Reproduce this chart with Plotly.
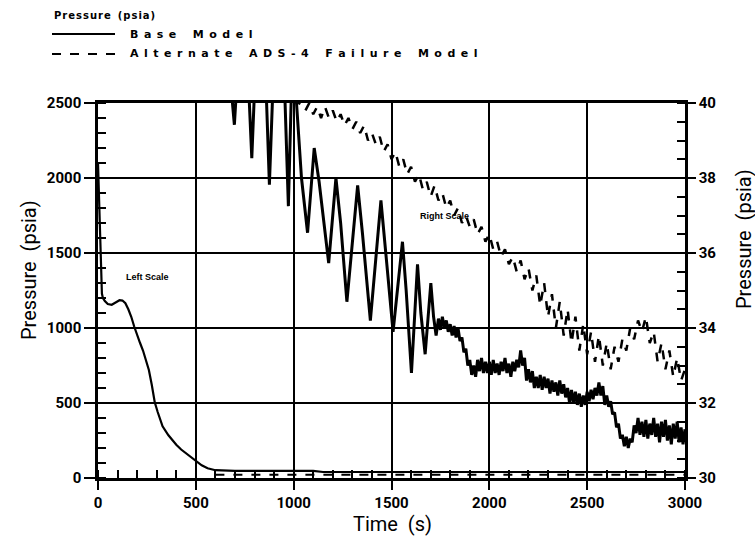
import plotly.graph_objects as go

# ---------------- data ----------------
# Left scale (0-2500 psia)
left_t = [0, 4, 8, 12, 16, 20, 25, 35, 50, 70, 90, 110, 125, 140, 155, 170, 185, 200,
          215, 230, 245, 260, 275, 290, 305, 330, 360, 380, 400, 425, 450, 475,
          500, 530, 560, 600, 700, 800, 900, 1000, 1100, 1150, 1500, 2000, 2500, 3000]
left_base_p = [2100, 1900, 1700, 1500, 1350, 1230, 1200, 1180, 1160, 1155, 1170, 1185,
               1183, 1165, 1125, 1075, 1010, 950, 900, 850, 790, 720, 620, 505, 440, 345,
               285, 250, 222, 190, 165, 138, 112, 85, 65, 52, 48, 47, 47, 47, 47, 40,
               40, 40, 40, 40]
left_alt_t = [600, 1000, 1500, 2000, 2500, 3000]
left_alt_p = [22, 22, 22, 22, 22, 22]

# Right scale (30-40 psia): Base Model
base_osc_t = [670, 697, 715, 765, 786, 805, 855, 876, 898, 950, 973, 992, 1012, 1040,
              1071, 1105, 1130, 1179, 1216, 1240, 1272, 1327, 1352, 1392, 1446, 1470,
              1508, 1556, 1575, 1602, 1633, 1650, 1672, 1701, 1715, 1728]
base_osc_p = [41.0, 39.42, 41.0, 41.0, 38.53, 41.0, 41.0, 37.82, 41.0, 41.0, 37.25, 41.0,
              40.2, 38.0, 36.54, 38.8, 37.9, 35.73, 38.0, 36.8, 34.7, 37.8, 36.5, 34.2,
              37.4, 36.0, 33.9, 36.3, 35.0, 32.8, 35.7, 34.4, 33.3, 35.2, 34.3, 33.8]
base_noise_t = list(range(1740, 3001, 10))
base_noise_p = [
    34.25, 33.95, 34.3, 34.0, 34.2, 33.9, 34.1, 33.8, 34.05, 33.75,
    34.0, 33.65, 33.75, 33.35, 33.45, 33.0, 33.15, 32.75, 33.0, 32.7,
    33.15, 32.85, 33.2, 32.8, 33.1, 32.8, 33.1, 32.75, 33.15, 32.8,
    33.05, 32.75, 33.1, 32.85, 33.2, 32.8, 33.05, 32.7, 33.1, 32.85,
    33.15, 32.95, 33.4, 33.0, 33.2, 32.6, 32.9, 32.55, 32.85, 32.4,
    32.7, 32.4, 32.75, 32.35, 32.7, 32.4, 32.65, 32.25, 32.6, 32.3,
    32.55, 32.2, 32.6, 32.25, 32.5, 32.15, 32.4, 32.0, 32.35, 32.0,
    32.3, 31.95, 32.25, 31.9, 32.2, 31.95, 32.3, 32.05, 32.35, 32.1,
    32.4, 32.2, 32.55, 32.2, 32.45, 31.95, 32.2, 31.9, 32.05, 31.7,
    31.75, 31.35, 31.45, 31.05, 31.15, 30.85, 31.1, 30.8, 31.05, 30.95,
    31.4, 31.2, 31.6, 31.15, 31.5, 31.1, 31.55, 31.05, 31.45, 31.15,
    31.6, 31.1, 31.45, 30.95, 31.5, 31.1, 31.55, 31.0, 31.4, 30.9,
    31.45, 31.05, 31.5, 30.95, 31.35, 30.9, 31.3]
base_t = base_osc_t + base_noise_t
base_p = base_osc_p + base_noise_p

# Right scale (30-40 psia): Alternate ADS-4 Failure Model
alt_t = list(range(1000, 3001, 20))
alt_p = [40.3, 39.9, 40.1, 39.8, 40.0, 39.7, 39.9, 39.6, 39.9, 39.6, 39.8, 39.5, 39.7,
         39.4, 39.6, 39.3, 39.5, 39.2, 39.4, 39.0, 39.2, 38.9, 39.1, 38.7, 38.9, 38.5,
         38.7, 38.3, 38.5, 38.1, 38.3, 37.9, 38.1, 37.7, 37.9, 37.5, 37.8, 37.4, 37.6,
         37.2, 37.4, 37.0, 37.2, 36.8, 37.0, 36.7, 36.9, 36.5, 36.7, 36.3, 36.5, 36.1,
         36.3, 35.9, 36.1, 35.7, 35.9, 35.5, 35.8, 35.3, 35.6, 35.0, 35.4, 34.6, 35.2,
         34.3, 34.9, 34.0, 34.7, 33.8, 34.5, 33.6, 34.3, 33.4, 34.1, 33.3, 33.9, 33.1,
         33.8, 33.0, 33.6, 32.9, 33.5, 33.1, 33.7, 33.4, 34.0, 33.7, 34.2, 33.9, 34.3,
         33.6, 33.9, 33.1, 33.6, 32.9, 33.4, 32.7, 33.2, 32.6, 32.9]

x_ticks = [0, 500, 1000, 1500, 2000, 2500, 3000]
left_ticks = [0, 500, 1000, 1500, 2000, 2500]
right_ticks = [30, 32, 34, 36, 38, 40]

# ---------------- figure ----------------
W, H = 755, 543
PL, PR, PT, PB = 98, 685, 103, 478  # plot area in pixels

TICKFONT = dict(family="Roboto, Liberation Sans, sans-serif", size=15, color="black",
                weight="bold")
TITLEFONT = dict(family="Roboto, Liberation Sans, sans-serif", size=20, color="black")

fig = go.Figure()
fig.add_trace(go.Scatter(x=left_t, y=left_base_p, mode="lines",
                         line=dict(color="black", width=2.2), yaxis="y", showlegend=False))
fig.add_trace(go.Scatter(x=left_alt_t, y=left_alt_p, mode="lines",
                         line=dict(color="black", width=2, dash="dash"), yaxis="y",
                         showlegend=False))
fig.add_trace(go.Scatter(x=base_t, y=base_p, mode="lines",
                         line=dict(color="black", width=3), yaxis="y2", showlegend=False))
fig.add_trace(go.Scatter(x=alt_t, y=alt_p, mode="lines",
                         line=dict(color="black", width=2.5, dash="dash"), yaxis="y2",
                         showlegend=False))

fig.update_layout(
    width=W, height=H,
    margin=dict(l=PL, r=W - PR, t=PT, b=H - PB),
    paper_bgcolor="white", plot_bgcolor="white",
    showlegend=False,
    xaxis=dict(range=[0, 3000], tickvals=x_ticks, ticktext=[str(v) for v in x_ticks],
               showgrid=True, gridcolor="black", gridwidth=2,
               showline=True, linecolor="black", linewidth=2.5, mirror=True,
               ticks="outside", ticklen=9, tickwidth=2, tickcolor="black",
               minor=dict(ticks="inside", dtick=100, ticklen=8, tickwidth=1.5,
                          tickcolor="black", showgrid=False),
               tickfont=TICKFONT, zeroline=False),
    yaxis=dict(range=[0, 2500], tickvals=left_ticks, ticktext=[str(v) for v in left_ticks],
               showgrid=True, gridcolor="black", gridwidth=2,
               showline=True, linecolor="black", linewidth=2.5,
               ticks="outside", ticklen=11, tickwidth=2, tickcolor="black",
               minor=dict(ticks="inside", dtick=100, ticklen=8, tickwidth=1.5,
                          tickcolor="black", showgrid=False),
               tickfont=TICKFONT, zeroline=False),
    yaxis2=dict(range=[30, 40], overlaying="y", side="right",
                tickvals=right_ticks, ticktext=[str(v) for v in right_ticks],
                showgrid=False, showline=True, linecolor="black", linewidth=2.5,
                ticks="outside", ticklen=8, tickwidth=2, tickcolor="black",
                minor=dict(ticks="inside", dtick=0.5, ticklen=8, tickwidth=1.5,
                           tickcolor="black", showgrid=False),
                tickfont=TICKFONT, zeroline=False),
)


def px(x):
    return (x - PL) / (PR - PL)


def py(y):
    return (PB - y) / (PB - PT)


NB = "\u00a0"
ann = [
    dict(text=f"Pressure{NB}{NB}(psia)", x=29, y=270, textangle=-90, font=TITLEFONT),
    dict(text=f"Pressure{NB}{NB}(psia)", x=744, y=239, textangle=-90, font=TITLEFONT),
    dict(text=f"Time{NB}{NB}(s)", x=393, y=524, font=TITLEFONT),
    dict(text="<b>Left Scale</b>", x=147, y=277,
         font=dict(family="Liberation Sans, Arial, sans-serif", size=9, color="black")),
    dict(text="<b>Right Scale</b>", x=444, y=216,
         font=dict(family="Liberation Sans, Arial, sans-serif", size=9, color="black")),
]


def spaced(s, sep, gap):
    return gap.join(sep.join(w) for w in s.split(" "))


HS = "\u200a"   # hair space
EN = "\u2002"   # en space
LEGFONT1 = dict(family="DejaVu Sans, sans-serif", size=10, color="black", weight="bold")
LEGFONT2 = dict(family="DejaVu Sans, sans-serif", size=11, color="black", weight="bold")
ann += [
    dict(text=spaced("Pressure (psia)", HS, NB * 2), x=52, y=15, xanchor="left",
         font=LEGFONT1),
    dict(text=spaced("Base Model", EN, EN * 3), x=128, y=34, xanchor="left",
         font=LEGFONT2),
    dict(text=spaced("Alternate ADS-4 Failure Model", EN, EN * 3), x=128, y=54,
         xanchor="left", font=LEGFONT2),
]
for a in ann:
    a.setdefault("xanchor", "center")
    a.update(xref="paper", yref="paper", showarrow=False, yanchor="middle")
    a["x"] = px(a["x"])
    a["y"] = py(a["y"])
fig.update_layout(annotations=ann)

# legend line samples
fig.add_shape(type="line", xref="paper", yref="paper", x0=px(52), x1=px(115),
              y0=py(34), y1=py(34), line=dict(color="black", width=2))
fig.add_shape(type="line", xref="paper", yref="paper", x0=px(52), x1=px(115),
              y0=py(54), y1=py(54), line=dict(color="black", width=2, dash="dash"))

fig.write_html("out.html")
